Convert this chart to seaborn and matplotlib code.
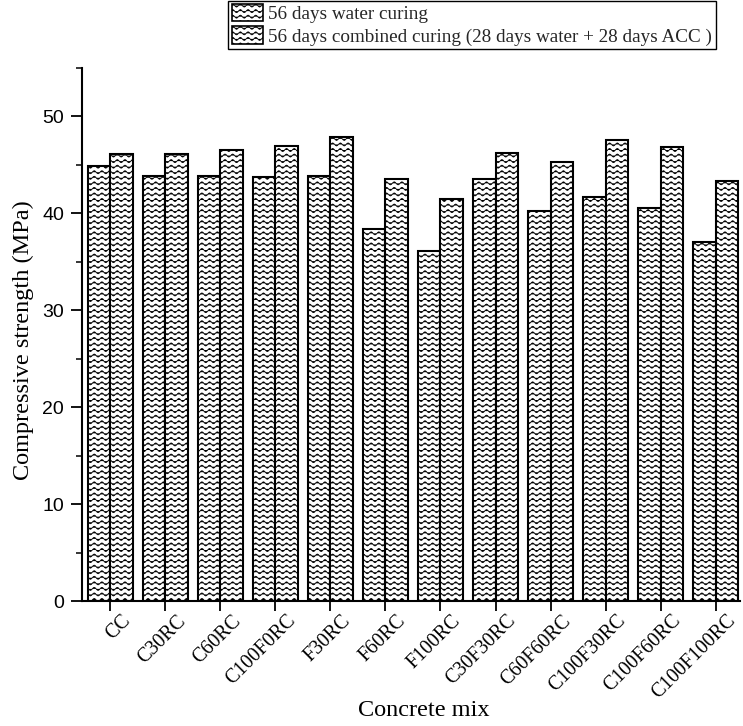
import numpy as np
import pandas as pd
import matplotlib
matplotlib.use("Agg")
import matplotlib.pyplot as plt
import matplotlib.transforms as mtransforms
import seaborn as sns
from matplotlib import hatch as mhatch
from matplotlib.path import Path
from matplotlib.patches import Patch
from matplotlib.ticker import MultipleLocator

# Compressive strength (MPa) per concrete mix
mixes = ["CC", "C30RC", "C60RC", "C100F0RC", "F30RC", "F60RC", "F100RC",
         "C30F30RC", "C60F60RC", "C100F30RC", "C100F60RC", "C100F100RC"]
water_56 = [44.9, 43.9, 43.9, 43.8, 43.9, 38.4, 36.1, 43.5, 40.2, 41.7, 40.6, 37.0]
combined_56 = [46.1, 46.1, 46.5, 46.9, 47.9, 43.5, 41.5, 46.2, 45.3, 47.6, 46.8, 43.3]
series_labels = ["56 days water curing",
                 "56 days combined curing (28 days water + 28 days ACC )"]
y_ticks = [0, 10, 20, 30, 40, 50]


class WavyHatch(mhatch.HatchPatternBase):
    """Horizontal wavy lines; one set per '~' in the hatch string."""
    waves = 13      # periods across one hatch tile
    samples = 8     # points per period

    def __init__(self, hatch, density):
        self.num_lines = int(hatch.count('~') * density)
        self.npts = self.waves * self.samples + 1
        self.num_vertices = (self.num_lines + 2) * self.npts if self.num_lines else 0

    def set_vertices_and_codes(self, vertices, codes):
        xs = np.linspace(0, 1, self.npts)
        step = 1.0 / self.num_lines
        ys = 0.27 * step * np.sin(2 * np.pi * self.waves * xs)
        for k, i in enumerate(range(-1, self.num_lines + 1)):
            sl = slice(k * self.npts, (k + 1) * self.npts)
            vertices[sl, 0] = xs
            vertices[sl, 1] = i * step + ys
            codes[sl] = Path.LINETO
            codes[k * self.npts] = Path.MOVETO


mhatch._hatch_types.append(WavyHatch)
mhatch._validate_hatch_pattern = lambda h: None

sns.set_theme(style="white")
plt.rcParams["font.family"] = ["Liberation Serif", "DejaVu Serif"]
plt.rcParams["hatch.linewidth"] = 0.6
plt.rcParams["hatch.color"] = "#3a3a3a"

df = pd.DataFrame({
    "Mix": mixes * 2,
    "Strength": water_56 + combined_56,
    "Curing": [series_labels[0]] * len(mixes) + [series_labels[1]] * len(mixes),
})

fig = plt.figure(figsize=(7.43, 7.26), dpi=100)
ax = fig.add_axes([82 / 743, 1 - 601 / 726, (740 - 82) / 743, (601 - 68) / 726])

sns.barplot(data=df, x="Mix", y="Strength", hue="Curing", hue_order=series_labels,
            palette=["white", "white"], saturation=1, edgecolor="black",
            linewidth=1.5, width=0.82, errorbar=None, legend=False, ax=ax)

for bar in ax.patches:
    bar.set_hatch("~~~")

ax.set_xlim(-0.51, 11.44)
ax.set_ylim(0, 55)
ax.set_yticks(y_ticks)
ax.yaxis.set_minor_locator(MultipleLocator(5))

for side in ("top", "right"):
    ax.spines[side].set_visible(False)
for side in ("left", "bottom"):
    ax.spines[side].set_linewidth(1.5)
    ax.spines[side].set_color("black")

ax.tick_params(axis="y", which="major", direction="out", length=8, width=1.3,
               left=True, labelsize=14, pad=5, colors="black")
ax.tick_params(axis="y", which="minor", direction="out", length=4, width=1.3, left=True)
ax.tick_params(axis="x", which="major", direction="out", length=7, width=1.3,
               bottom=True, labelsize=14.3, pad=0.5, colors="black")
for lab in ax.get_yticklabels():
    lab.set_fontfamily("Liberation Sans")
shift = mtransforms.ScaledTranslation(11 / 100, 0, fig.dpi_scale_trans)
for lab in ax.get_xticklabels():
    lab.set_rotation(45)
    lab.set_ha("right")
    lab.set_rotation_mode("anchor")
    lab.set_transform(lab.get_transform() + shift)

ax.set_xlabel("Concrete mix", fontsize=17.5, color="black")
ax.set_ylabel("Compressive strength (MPa)", fontsize=17.5, color="black")
ax.xaxis.set_label_coords(0.52, -0.185)
ax.yaxis.set_label_coords(-0.073, 0.49)

handles = [Patch(facecolor="white", edgecolor="black", linewidth=1.2, hatch="~~~",
                 label=lab) for lab in series_labels]
leg = fig.legend(handles=handles, loc="upper left",
                 bbox_to_anchor=(228 / 743, 1 - 0.5 / 726), fontsize=13.8,
                 frameon=True, fancybox=False, framealpha=1, edgecolor="black",
                 handlelength=1.6, handleheight=1.0, borderpad=0.2,
                 labelspacing=0.15, handletextpad=0.3, borderaxespad=0)
leg.get_frame().set_linewidth(1.0)

fig.savefig("out.png", dpi=100)
